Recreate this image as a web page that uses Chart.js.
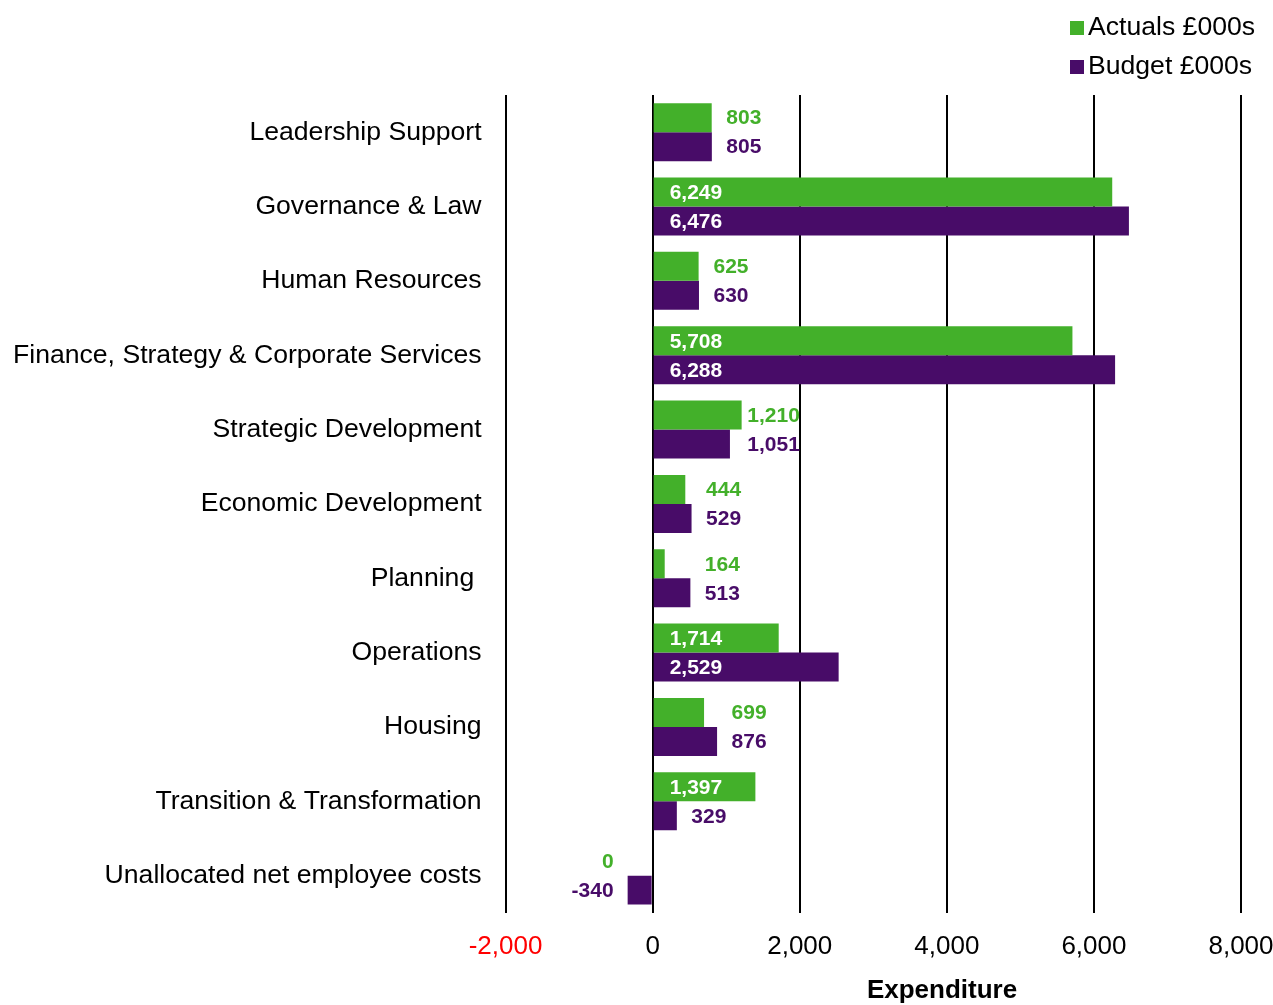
<!DOCTYPE html>
<html>
<head>
<meta charset="utf-8">
<script src="https://cdn.jsdelivr.net/npm/chart.js@4/dist/chart.umd.min.js"></script>
<style>
  body { margin: 0; background: #fff; }
</style>
</head>
<body>
<canvas id="chart" width="1273" height="1005"></canvas>
<script>
var categories = ['Leadership Support', 'Governance & Law', 'Human Resources',
    'Finance, Strategy & Corporate Services', 'Strategic Development',
    'Economic Development', 'Planning ', 'Operations', 'Housing',
    'Transition & Transformation', 'Unallocated net employee costs'];
var actuals = [803, 6249, 625, 5708, 1210, 444, 164, 1714, 699, 1397, 0];
var budget = [805, 6476, 630, 6288, 1051, 529, 513, 2529, 876, 329, -340];
var xTicks = [-2000, 0, 2000, 4000, 6000, 8000];

var green = '#43B02A';
var purple = '#480C68';
var fontName = '"Liberation Sans", Arial, sans-serif';

// labels for bars: big ones inside at the base, small ones outside the end
var labelPlugin = {
    id: 'barLabels',
    afterDatasetsDraw: function(chart) {
        var ctx = chart.ctx;
        var metas = [chart.getDatasetMeta(0), chart.getDatasetMeta(1)];
        ctx.save();
        ctx.font = 'bold 21px ' + fontName;
        ctx.textBaseline = 'middle';
        for (var i = 0; i < categories.length; i++) {
            var vals = [chart.data.datasets[0].data[i], chart.data.datasets[1].data[i]];
            var neg = Math.min(vals[0], vals[1]) < 0;
            var maxEnd = 0, minEnd = 99999;
            for (var d = 0; d < 2; d++) {
                var b = metas[d].data[i];
                if (vals[d] <= 1300) maxEnd = Math.max(maxEnd, b.x, b.base);
                minEnd = Math.min(minEnd, b.x, b.base);
            }
            for (var d = 0; d < 2; d++) {
                var bar = metas[d].data[i];
                var color = chart.data.datasets[d].backgroundColor;
                var txt = vals[d].toLocaleString('en-GB');
                if (neg) {
                    ctx.fillStyle = color;
                    ctx.textAlign = 'right';
                    ctx.fillText(txt, minEnd - 14, bar.y + 1);
                } else if (vals[d] > 1300) {
                    ctx.fillStyle = '#ffffff';
                    ctx.textAlign = 'left';
                    ctx.fillText(txt, bar.base + 16, bar.y + 1);
                } else {
                    ctx.fillStyle = color;
                    ctx.textAlign = 'center';
                    ctx.fillText(txt, maxEnd + 32, bar.y + 1);
                }
            }
        }
        ctx.restore();
    }
};

// stacked legend top right + axis title
var extrasPlugin = {
    id: 'extras',
    afterDraw: function(chart) {
        var ctx = chart.ctx;
        ctx.save();
        ctx.textBaseline = 'middle';
        ctx.textAlign = 'left';
        ctx.font = '26.6px ' + fontName;
        chart.data.datasets.forEach(function(ds, k) {
            var y = 28 + k * 39;
            ctx.fillStyle = ds.backgroundColor;
            ctx.fillRect(1070, y - 7, 14, 14);
            ctx.fillStyle = '#000';
            ctx.fillText(ds.label, 1088, y);
        });
        ctx.font = 'bold 26px ' + fontName;
        ctx.textAlign = 'center';
        ctx.fillText('Expenditure', 942, 991);
        ctx.restore();
    }
};

new Chart(document.getElementById('chart'), {
    type: 'bar',
    data: {
        labels: categories,
        datasets: [
            { label: 'Actuals £000s', data: actuals, backgroundColor: green },
            { label: 'Budget £000s', data: budget, backgroundColor: purple }
        ]
    },
    options: {
        indexAxis: 'y',
        responsive: false,
        animation: false,
        layout: { padding: { top: 95, left: -11, right: 32, bottom: 25 } },
        categoryPercentage: 0.78,
        barPercentage: 1.0,
        plugins: {
            legend: { display: false },
            tooltip: { enabled: false }
        },
        scales: {
            x: {
                min: -2000,
                max: 8000,
                afterBuildTicks: function(scale) {
                    scale.ticks = xTicks.map(function(v) { return { value: v }; });
                },
                afterFit: function(scale) {
                    scale.paddingLeft = 0;
                    scale.paddingRight = 0;
                },
                grid: { color: '#000', lineWidth: 2, drawTicks: false },
                border: { display: false },
                ticks: {
                    padding: 18,
                    color: function(c) { return c.tick.value < 0 ? '#ff0000' : '#000'; },
                    font: { size: 26, family: fontName },
                    callback: function(v) { return v.toLocaleString('en-GB'); }
                }
            },
            y: {
                grid: { display: false, drawTicks: false },
                border: { display: false },
                ticks: {
                    padding: 24,
                    color: '#000',
                    font: { size: 26.6, family: fontName }
                }
            }
        }
    },
    plugins: [labelPlugin, extrasPlugin]
});
</script>
</body>
</html>
